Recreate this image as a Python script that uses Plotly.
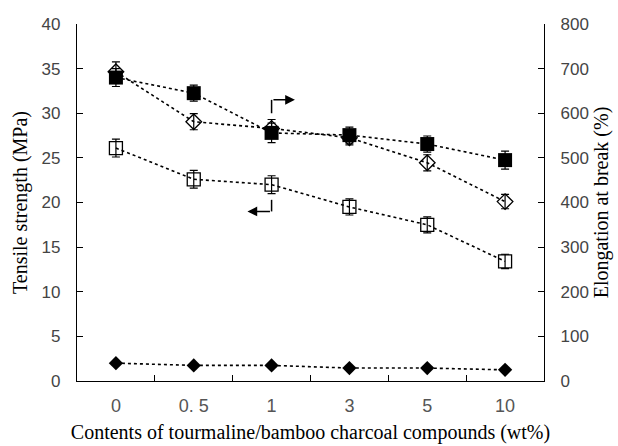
import plotly.graph_objects as go

categories = ["0", "0. 5", "1", "3", "5", "10"]

# Tensile strength (MPa), left axis
open_square = [26.1, 22.6, 22.0, 19.5, 17.5, 13.4]
open_square_err = [1.0, 1.0, 1.0, 0.9, 0.9, 0.8]
filled_diamond = [2.0, 1.75, 1.75, 1.45, 1.45, 1.25]

# Elongation at break (%), right axis
filled_square = [680, 645, 556, 551, 531, 495]
filled_square_err = [20, 18, 22, 18, 18, 20]
open_diamond = [693, 581, 566, 545, 489, 402]
open_diamond_err = [22, 18, 20, 16, 18, 16]

left_ticks = list(range(0, 41, 5))
right_ticks = list(range(0, 801, 100))

line_style = dict(color="black", width=1.6, dash="dot")
err_style = dict(color="black", thickness=1.2, width=4)

fig = go.Figure()
fig.add_trace(go.Scatter(
    x=categories, y=open_square, mode="lines+markers", line=line_style,
    marker=dict(symbol="square-open", size=13, color="black", line=dict(width=1.3)),
    error_y=dict(type="data", array=open_square_err, **err_style),
    yaxis="y", showlegend=False))
fig.add_trace(go.Scatter(
    x=categories, y=filled_diamond, mode="lines+markers", line=line_style,
    marker=dict(symbol="diamond", size=11, color="black"),
    yaxis="y", showlegend=False))
fig.add_trace(go.Scatter(
    x=categories, y=open_diamond, mode="lines+markers", line=line_style,
    marker=dict(symbol="diamond-open", size=12, color="black", line=dict(width=1.3)),
    error_y=dict(type="data", array=open_diamond_err, **err_style),
    yaxis="y2", showlegend=False))
fig.add_trace(go.Scatter(
    x=categories, y=filled_square, mode="lines+markers", line=line_style,
    marker=dict(symbol="square", size=14, color="black"),
    error_y=dict(type="data", array=filled_square_err, **err_style),
    yaxis="y2", showlegend=False))

# arrows indicating axes
fig.add_shape(type="line", xref="x", yref="y", x0=2, x1=2, y0=30.0, y1=31.5,
              line=dict(color="black", width=1.5))
fig.add_annotation(xref="x", yref="y", x=2.3, y=31.5, ax=-23, ay=0, text="",
                   showarrow=True, arrowhead=2, arrowsize=1.3, arrowwidth=1.5, arrowcolor="black")
fig.add_shape(type="line", xref="x", yref="y", x0=2, x1=2, y0=20.3, y1=19.0,
              line=dict(color="black", width=1.5))
fig.add_annotation(xref="x", yref="y", x=1.69, y=19.0, ax=24, ay=0, text="",
                   showarrow=True, arrowhead=2, arrowsize=1.3, arrowwidth=1.5, arrowcolor="black")

tick_font = dict(family="Liberation Sans", size=17, color="#444")
title_font = dict(family="Liberation Serif", size=20, color="black")

fig.update_layout(
    width=618, height=446,
    margin=dict(l=77, r=74, t=24, b=65),
    plot_bgcolor="white", paper_bgcolor="white",
    xaxis=dict(type="category", range=[-0.5, 5.5], showline=True, linecolor="black",
               linewidth=1.3, ticks="inside", tickson="boundaries", ticklen=6,
               tickcolor="black", showgrid=False, zeroline=False, automargin=False,
               ticklabelstandoff=8,
               tickfont=dict(family="Liberation Sans", size=18, color="#555"),
               title=dict(text="Contents of tourmaline/bamboo charcoal compounds (wt%)",
                          font=title_font, standoff=10)),
    yaxis=dict(range=[0, 40], tickvals=left_ticks, showline=True, linecolor="black",
               linewidth=1.3, ticks="inside", ticklen=6, tickcolor="black",
               showgrid=False, zeroline=False, tickfont=tick_font, automargin=False,
               ticklabelstandoff=12,
               title=dict(text="Tensile strength (MPa)", font=title_font, standoff=8)),
    yaxis2=dict(range=[0, 800], tickvals=right_ticks, overlaying="y", side="right",
                showline=True, linecolor="black", linewidth=1.3, ticks="inside",
                ticklen=6, tickcolor="black", showgrid=False, zeroline=False,
                tickfont=tick_font, automargin=False, ticklabelstandoff=12,
                title=dict(text="Elongation at break (%)", font=title_font, standoff=6)),
)

fig.write_html("out.html")
